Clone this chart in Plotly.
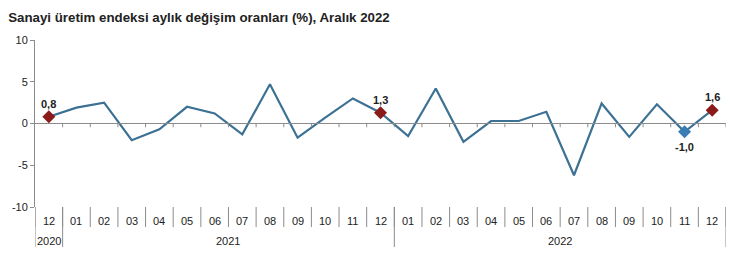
import plotly.graph_objects as go

months = ["12", "01", "02", "03", "04", "05", "06", "07", "08", "09", "10", "11", "12",
          "01", "02", "03", "04", "05", "06", "07", "08", "09", "10", "11", "12"]
years = ["2020", "2021", "2022"]
year_counts = [1, 12, 12]
values = [0.8, 1.9, 2.5, -2.0, -0.7, 2.0, 1.2, -1.3, 4.7, -1.7, 0.7, 3.0, 1.3,
          -1.5, 4.2, -2.2, 0.3, 0.3, 1.4, -6.2, 2.4, -1.6, 2.3, -1.0, 1.6]
y_ticks = [10, 5, 0, -5, -10]
title = "Sanayi üretim endeksi aylık değişim oranları (%), Aralık 2022"

# highlighted points: (index, colour, label position)
highlights = [(0, "#8B1A1A", "above"), (12, "#8B1A1A", "above"),
              (23, "#3A7DB5", "below"), (24, "#8B1A1A", "above")]

n = len(values)
xs = list(range(n))
FONT = "Liberation Sans, Arial, sans-serif"
AXC = "#8c8c8c"

fig = go.Figure()
fig.add_trace(go.Scatter(x=xs, y=values, mode="lines",
                         line=dict(color="#3C7193", width=2.2),
                         hoverinfo="skip", showlegend=False))
for i, col, pos in highlights:
    fig.add_trace(go.Scatter(x=[xs[i]], y=[values[i]], mode="markers",
                             marker=dict(symbol="diamond", size=10, color=col),
                             showlegend=False, hoverinfo="skip"))
    fig.add_annotation(x=xs[i], y=values[i], text="<b>%s</b>" % f"{values[i]:.1f}".replace(".", ","),
                       showarrow=False, yshift=(13 if pos == "above" else -15),
                       font=dict(family=FONT, size=11, color="#222"))

shapes = []
# zero line
shapes.append(dict(type="line", xref="x", yref="y", x0=-0.5, x1=n - 0.5, y0=0, y1=0,
                   line=dict(color=AXC, width=1)))
# tick marks on zero line at category boundaries
for k in range(n):
    b = k + 0.5
    shapes.append(dict(type="line", xref="x", yref="y", x0=b, x1=b, y0=0, y1=-0.45,
                       line=dict(color=AXC, width=1)))
# month separators below the plot
for k in range(n + 1):
    b = k - 0.5
    shapes.append(dict(type="line", xref="x", yref="paper", x0=b, x1=b, y0=0, y1=-0.12,
                       line=dict(color=AXC, width=1)))
# year separators
acc = 0
bounds = [-0.5]
for c in year_counts:
    acc += c
    bounds.append(acc - 0.5)
for b in bounds:
    shapes.append(dict(type="line", xref="x", yref="paper", x0=b, x1=b, y0=0, y1=-0.24,
                       line=dict(color=AXC, width=1)))

annotations = []
for k, m in enumerate(months):
    annotations.append(dict(x=k, y=0, xref="x", yref="paper", text=m, showarrow=False,
                            yanchor="middle", yshift=-14,
                            font=dict(family=FONT, size=11, color="#222")))
start = 0
for yname, c in zip(years, year_counts):
    center = start + (c - 1) / 2
    annotations.append(dict(x=center, y=0, xref="x", yref="paper", text=yname, showarrow=False,
                            yanchor="middle", yshift=-34,
                            font=dict(family=FONT, size=11, color="#222")))
    start += c
for a in annotations:
    fig.add_annotation(**a)

fig.update_layout(
    width=742, height=270,
    margin=dict(l=32, r=16, t=40, b=63),
    paper_bgcolor="white", plot_bgcolor="white",
    title=dict(text="<b>%s</b>" % title, x=0.011, xanchor="left", y=0.935, yanchor="middle",
               font=dict(family=FONT, size=13.3, color="#222")),
    shapes=shapes,
    xaxis=dict(range=[-0.5, n - 0.5], showticklabels=False, showgrid=False, zeroline=False,
               showline=False, ticks=""),
    yaxis=dict(range=[-10, 10], tickvals=y_ticks, ticktext=[str(v) for v in y_ticks],
               showgrid=False, zeroline=False, showline=True, linecolor=AXC, linewidth=1,
               ticks="outside", ticklen=4, tickcolor=AXC,
               tickfont=dict(family=FONT, size=11, color="#222")),
)
fig.write_html("out.html")
